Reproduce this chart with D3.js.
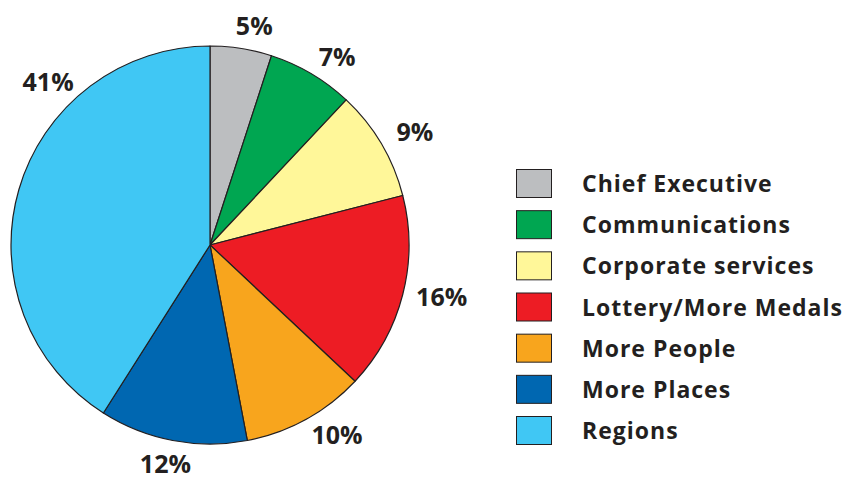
<!DOCTYPE html>
<html>
<head>
<meta charset="utf-8">
<script src="https://cdn.jsdelivr.net/npm/d3@7/dist/d3.min.js"></script>
<style>
  html, body { margin: 0; padding: 0; background: #fff; }
  svg { display: block; }
  text { font-family: "Open Sans", "Noto Sans", sans-serif; font-weight: 700; fill: #231f20; }
</style>
</head>
<body>
<svg id="chart" width="848" height="477"></svg>
<script>
// Budget share by area (percent)
const categories = ["Chief Executive", "Communications", "Corporate services",
  "Lottery/More Medals", "More People", "More Places", "Regions"];
const values = [5, 7, 9, 16, 10, 12, 41];
const colors = ["#bcbec0", "#00a651", "#fff799", "#ed1c24", "#f8a51d", "#0067b1", "#40c7f4"];

const svg = d3.select("#chart");
const cx = 210, cy = 245, radius = 199;
const labelRadius = 224, labelWidthPad = 14;

const pie = d3.pie().sort(null).value(d => d.value);
const arc = d3.arc().innerRadius(0).outerRadius(radius);

const data = categories.map((c, i) => ({ name: c, value: values[i], color: colors[i] }));
const arcs = pie(data);

const g = svg.append("g").attr("transform", `translate(${cx},${cy})`);

g.selectAll("path.slice")
  .data(arcs)
  .join("path")
  .attr("class", "slice")
  .attr("d", arc)
  .attr("fill", d => d.data.color)
  .attr("stroke", "#231f20")
  .attr("stroke-width", 1.2)
  .attr("stroke-linejoin", "round");

// Percent labels sit just outside the rim; the big slice's label is pulled up toward its upper edge
const angleShift = {
  "Chief Executive": 0.03, "Communications": 0.03, "Lottery/More Medals": -0.02,
  "More People": -0.06, "Regions": 0.54
};
const labelAngle = d => (d.startAngle + d.endAngle) / 2 + (angleShift[d.data.name] || 0);

g.selectAll("text.pct")
  .data(arcs)
  .join("text")
  .attr("class", "pct")
  .attr("text-anchor", "middle")
  .attr("dominant-baseline", "central")
  .attr("font-size", 25)
  .attr("x", d => Math.sin(labelAngle(d)) * (labelRadius + labelWidthPad))
  .attr("y", d => Math.min(-Math.cos(labelAngle(d)) * labelRadius, 218))
  .text(d => d.data.value + "%");

// Legend
const legendY = d3.scalePoint().domain(categories).range([183, 430]);
const legend = svg.append("g");
const rows = legend.selectAll("g.row")
  .data(data)
  .join("g")
  .attr("class", "row")
  .attr("transform", d => `translate(0,${legendY(d.name)})`);

rows.append("rect")
  .attr("x", 516.5)
  .attr("y", -13.5)
  .attr("width", 35)
  .attr("height", 28)
  .attr("fill", d => d.color)
  .attr("stroke", "#231f20")
  .attr("stroke-width", 1);

rows.append("text")
  .attr("x", 582)
  .attr("y", 9)
  .attr("font-size", 23)
  .attr("letter-spacing", 1)
  .text(d => d.name);
</script>
</body>
</html>
